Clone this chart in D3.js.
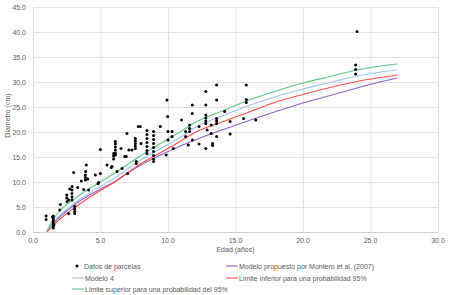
<!DOCTYPE html>
<html>
<head>
<meta charset="utf-8">
<script src="https://cdn.jsdelivr.net/npm/d3@7"></script>
<style>
  body { margin: 0; background: #fff; }
  text { font-family: "Liberation Sans", Arial, sans-serif; fill: #595959; }
</style>
</head>
<body>
<div class="canvas"></div>
<script>
// datos de parcelas [edad, diametro]
var parcelas = [
  [0.97,3.2],[0.97,2.5],
  [1.5,3.2],[1.5,2.8],[1.5,2.4],[1.5,2.0],[1.5,1.6],[1.5,1.2],[1.5,0.8],[1.45,3.0],[1.55,1.4],
  [1.98,4.4],[2.03,5.5],
  [2.5,7.4],[2.5,6.8],[2.52,6.1],[2.72,8.6],[2.64,6.4],[2.89,9.1],[2.89,8.4],[2.89,7.7],[2.89,7.0],[2.89,6.4],
  [3.01,11.9],[3.09,5.1],[3.09,4.6],[3.09,4.1],[3.09,3.7],[2.64,3.7],[3.31,8.9],[3.58,10.2],[3.75,8.5],
  [3.88,11.4],[3.88,10.9],[3.88,10.4],[3.95,13.4],[3.9,12.1],[4.12,8.4],[4.05,10.6],[4.62,11.4],[4.86,9.9],
  [4.99,16.5],[4.99,11.7],[4.82,9.7],[5.48,13.4],[5.85,13.1],[5.8,12.9],
  [5.97,15.7],[5.97,15.2],[5.97,14.6],[6.1,18.1],[6.1,17.6],[6.1,17.0],[6.1,16.4],[6.1,15.8],[6.1,15.4],
  [6.52,16.7],[6.6,12.7],[6.22,12.1],[6.96,19.7],[6.91,15.1],[6.8,15.1],[7.01,11.7],[7.1,16.4],
  [7.58,18.7],[7.58,18.2],[7.58,17.7],[7.58,17.2],[7.58,16.7],[7.65,14.1],[7.65,13.7],[7.33,16.4],
  [7.8,21.1],[7.95,21.1],[8.0,17.7],
  [8.44,20.3],[8.44,19.5],[8.44,18.7],[8.44,17.9],[8.44,17.1],[8.44,16.3],[8.44,15.7],
  [8.93,20.1],[8.93,19.3],[8.93,18.5],[8.93,17.7],[8.93,16.9],[8.93,16.1],[8.93,15.3],[8.93,14.6],[8.93,14.1],
  [9.43,21.1],[9.92,26.4],[9.97,23.1],[10.0,20.1],[10.0,18.4],[9.87,15.4],[10.3,20.1],[10.3,19.1],[10.4,16.7],
  [11.0,22.4],[11.3,20.1],[11.3,19.1],[11.6,21.4],[11.6,20.7],[11.6,20.1],[11.8,25.4],[11.8,23.7],[11.8,18.4],
  [11.5,17.4],[12.3,21.1],[12.3,17.6],
  [12.8,28.1],[12.8,25.4],[12.8,23.4],[12.8,22.8],[12.8,22.2],[12.8,21.7],[12.8,16.7],[12.9,20.4],
  [13.2,21.4],[13.2,19.7],[13.3,17.7],[13.3,17.3],
  [13.6,29.4],[13.6,26.4],[13.6,22.7],[13.6,22.2],[13.6,21.7],[13.6,19.1],
  [14.2,24.1],[14.6,22.1],[14.6,19.6],[15.6,22.7],[15.8,29.4],[15.8,26.5],[15.8,25.9],[16.5,22.4],
  [24.0,40.1],[23.9,33.4],[23.9,32.5],[23.9,31.6]
];

// curvas
var edades = [1, 1.25, 1.5, 2, 2.5, 3, 4, 5, 6, 7, 8, 9, 10, 11, 12, 14, 16, 18, 20, 22, 24, 26, 27];
var montero = [0, 0.9, 1.7, 3.1, 4.2, 5.3, 7.1, 8.6, 10.0, 11.8, 13.4, 14.8, 16.1, 17.3, 18.4, 20.4, 22.3, 24.1, 25.8, 27.3, 28.8, 30.2, 30.8];
var modelo4 = [0, 1.0, 1.9, 3.4, 4.5, 5.6, 7.5, 9.1, 10.7, 12.6, 14.4, 16.0, 17.5, 19.1, 20.9, 23.2, 25.3, 27.1, 28.6, 29.9, 31.2, 32.1, 32.4];
var limInf = [0, 0.6, 1.3, 2.6, 3.7, 4.7, 6.6, 8.3, 9.9, 11.8, 13.7, 15.2, 16.7, 18.3, 19.9, 22.0, 24.0, 26.0, 27.5, 28.9, 30.1, 31.0, 31.4];
var limSup = [0, 1.4, 2.5, 4.3, 5.5, 6.5, 8.4, 10.0, 11.7, 13.5, 15.3, 17.0, 18.6, 20.2, 21.9, 24.2, 26.4, 28.2, 29.8, 31.1, 32.4, 33.3, 33.6];

var xTicks = [0, 5, 10, 15, 20, 25, 30];
var yTicks = [0, 5, 10, 15, 20, 25, 30, 35, 40, 45];

var width = 449, height = 295;
var margin = {top: 7, right: 11, bottom: 63, left: 33};

var svg = d3.select(".canvas").append("svg")
    .attr("width", width)
    .attr("height", height);

var x = d3.scaleLinear().domain([0, 30]).range([margin.left, width - margin.right]);
var y = d3.scaleLinear().domain([0, 45]).range([height - margin.bottom, margin.top]);

// grid
svg.append("g")
    .selectAll("line.v")
    .data(xTicks)
    .enter().append("line")
    .attr("x1", d => x(d) + 0.5).attr("x2", d => x(d) + 0.5)
    .attr("y1", y(45)).attr("y2", y(0))
    .attr("stroke", "#e2e2e2");

svg.append("g")
    .selectAll("line.h")
    .data(yTicks)
    .enter().append("line")
    .attr("x1", x(0)).attr("x2", x(30))
    .attr("y1", d => Math.round(y(d)) + 0.5).attr("y2", d => Math.round(y(d)) + 0.5)
    .attr("stroke", d => d === 0 ? "#d0d0d0" : "#e2e2e2");

// axes labels
svg.append("g")
    .selectAll("text")
    .data(yTicks)
    .enter().append("text")
    .attr("x", x(0) - 7)
    .attr("y", d => y(d) + 2.5)
    .attr("text-anchor", "end")
    .style("font-size", "7px")
    .text(d => d3.format(".1f")(d));

svg.append("g")
    .selectAll("text")
    .data(xTicks)
    .enter().append("text")
    .attr("x", d => x(d))
    .attr("y", y(0) + 11)
    .attr("text-anchor", "middle")
    .style("font-size", "7px")
    .text(d => d3.format(".1f")(d));

svg.append("text")
    .attr("x", (x(0) + x(30)) / 2)
    .attr("y", y(0) + 20)
    .attr("text-anchor", "middle")
    .style("font-size", "7px")
    .text("Edad (años)");

svg.append("text")
    .attr("transform", "translate(10," + ((y(0) + y(45)) / 2 - 4) + ") rotate(-90)")
    .attr("text-anchor", "middle")
    .style("font-size", "7px")
    .text("Diametro (cm)");

// curves
var series = [
  {name: "Modelo propuesto por Montero et al. (2007)", values: montero, color: "#9060c8"},
  {name: "Modelo 4", values: modelo4, color: "#9fc4ea"},
  {name: "Limite inferior para una probabilidad 95%", values: limInf, color: "#ff4f4f"},
  {name: "Limite superior para una probabilidad del 95%", values: limSup, color: "#5cc98a"}
];

var line = d3.line()
    .x((d, i) => x(edades[i]))
    .y(d => y(d))
    .curve(d3.curveMonotoneX);

svg.append("g")
    .selectAll("path")
    .data(series)
    .enter().append("path")
    .attr("d", d => line(d.values))
    .attr("fill", "none")
    .attr("stroke", d => d.color)
    .attr("stroke-width", 1.1);

// points
svg.append("g")
    .selectAll("circle")
    .data(parcelas)
    .enter().append("circle")
    .attr("cx", d => x(d[0]))
    .attr("cy", d => y(d[1]))
    .attr("r", 1.5)
    .attr("fill", "#000");

// legend
var legend = svg.append("g").style("font-size", "7px");

legend.append("circle").attr("cx", 77).attr("cy", 266).attr("r", 1.5).attr("fill", "#000");
legend.append("text").attr("x", 84).attr("y", 268.5).text("Datos de parcelas");

var legItems = [
  {s: series[0], lx: 226, ly: 266},
  {s: series[1], lx: 72, ly: 278},
  {s: series[2], lx: 226, ly: 278},
  {s: series[3], lx: 72, ly: 289}
];

legItems.forEach(it => {
  legend.append("line")
      .attr("x1", it.lx).attr("x2", it.lx + 12)
      .attr("y1", it.ly).attr("y2", it.ly)
      .attr("stroke", it.s.color).attr("stroke-width", 1.1);
  legend.append("text")
      .attr("x", it.lx + 13).attr("y", it.ly + 2.5)
      .text(it.s.name);
});
</script>
</body>
</html>
